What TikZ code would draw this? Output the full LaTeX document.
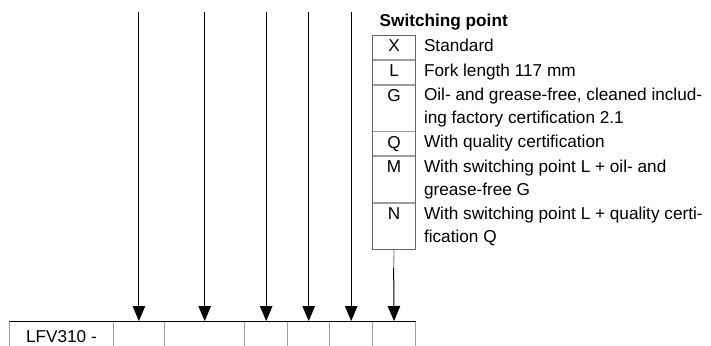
\documentclass[tikz,border=0pt]{standalone}
\usepackage{fontspec}
\setmainfont{Liberation Sans}
\usepackage{tikz}
\usetikzlibrary{arrows.meta, positioning}
\definecolor{framegray}{gray}{0.40}
\definecolor{sepgray}{gray}{0.62}

\begin{document}
\begin{tikzpicture}[x=1pt, y=-1pt,
    every node/.style={font=\fontsize{17.2}{23}\selectfont},
    letter/.style={rectangle, draw=sepgray, line width=0.8pt, minimum width=42.7pt, minimum height=24pt, inner xsep=0pt, inner ysep=0pt, align=center},
    desc/.style={anchor=north west, inner xsep=8pt, inner ysep=0pt, align=left},
    slot/.style={rectangle, draw=sepgray, line width=0.8pt, minimum height=31pt, anchor=north west, inner sep=0pt},
    arrow/.style={-{Triangle[length=15pt, width=12.5pt]}, line width=1pt}
]
\useasboundingbox (0,0) rectangle (711,345);

% order code row
\node[slot, minimum width=103.4pt, text height=12pt, text depth=0pt] (c0) at (9.3,321) {LFV310 -};
\node[slot, minimum width=51.6pt] (c1) at (112.7,321) {};
\node[slot, minimum width=80pt] (c2) at (164.3,321) {};
\node[slot, minimum width=43pt] (c3) at (244.3,321) {};
\node[slot, minimum width=42pt] (c4) at (287.3,321) {};
\node[slot, minimum width=43pt] (c5) at (329.3,321) {};
\node[slot, minimum width=42.7pt] (c6) at (372.3,321) {};
\draw[line width=1pt] (c0.north west) -- (c6.north east);

% switching point table
\node[anchor=base west, inner sep=0pt, font=\fontsize{17.2}{23}\selectfont\bfseries] (title) at (379.5,27) {Switching point};
\node[letter, anchor=north west] (sX) at (372.3,35) {\strut X};
\node[letter, below=0pt of sX] (sL) {\strut L};
\node[letter, below=0pt of sL] (sG) {\strut G\\\strut};
\node[letter, below=0pt of sG] (sQ) {\strut Q};
\node[letter, below=0pt of sQ] (sM) {\strut M\\\strut};
\node[letter, below=0pt of sM] (sN) {\strut N\\\strut};
\draw[framegray, line width=0.8pt] (sX.north west) rectangle (sN.south east);

\node[desc] (dX) at (sX.north east) {\strut Standard};
\node[desc] (dL) at (sL.north east) {\strut Fork length 117 mm};
\node[desc] (dG) at (sG.north east) {\strut Oil- and grease-free, cleaned includ-\\\strut ing factory certification 2.1};
\node[desc] (dQ) at (sQ.north east) {\strut With quality certification};
\node[desc] (dM) at (sM.north east) {\strut With switching point L + oil- and\\\strut grease-free G};
\node[desc] (dN) at (sN.north east) {\strut With switching point L + quality certi-\\\strut fication Q};

% arrows
\coordinate (top) at (0,12);
\foreach \i in {1,...,5}
    \draw[arrow] (c\i.north |- top) -- (c\i.north);
\coordinate (split) at (393.65,268);
\draw[framegray, line width=0.8pt] (sN.south) -- (split);
\draw[arrow] (split) -- (c6.north);
\end{tikzpicture}
\end{document}
